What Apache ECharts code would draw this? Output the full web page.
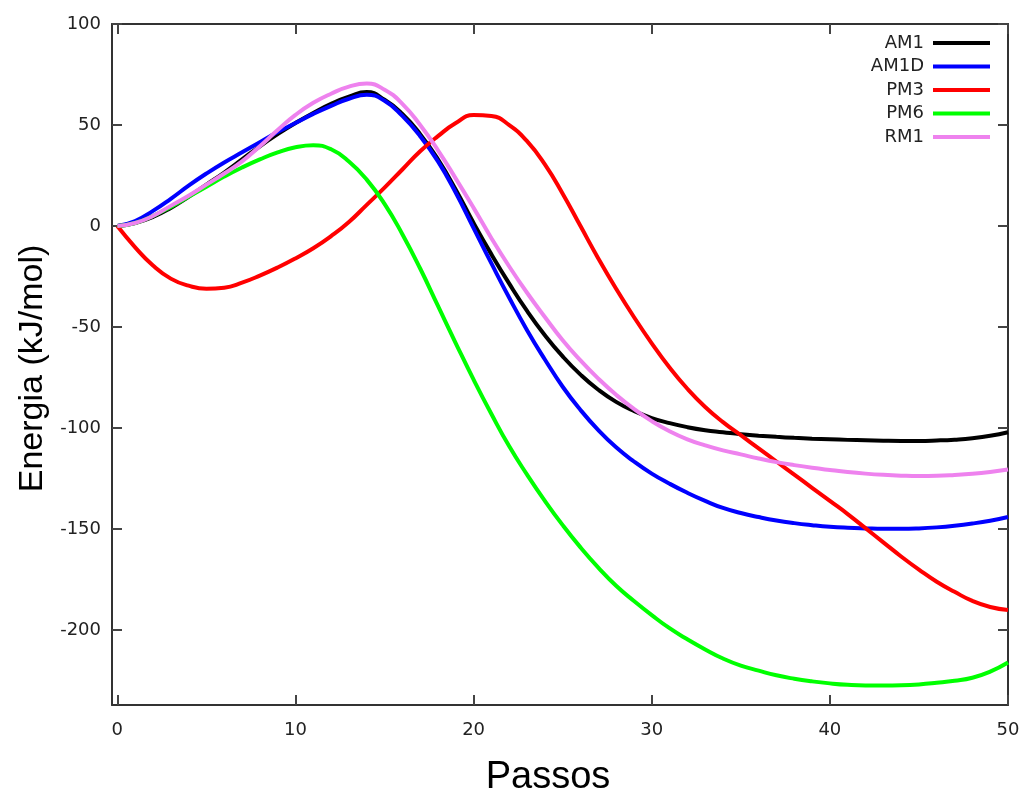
<!DOCTYPE html>
<html>
<head>
<meta charset="utf-8">
<script src="https://cdn.jsdelivr.net/npm/echarts@6/dist/echarts.min.js"></script>
<style>
  html, body { margin: 0; padding: 0; background: #fff; }
  #chart { width: 1023px; height: 790px; }
</style>
</head>
<body>
<div id="chart"></div>
<script>
// Passos (x), one value per step
const passos = [0, 1, 2, 3, 4, 5, 6, 7, 8, 9, 10, 11, 12, 13, 14, 15, 16, 17, 18, 19, 20, 21, 22, 23, 24, 25,
    26, 27, 28, 29, 30, 31, 32, 33, 34, 35, 36, 37, 38, 39, 40, 41, 42, 43, 44, 45, 46, 47, 48, 49, 50];

const am1 = [0, 1.5, 4.5, 9, 14.5, 20.5, 26.5, 33, 39.5, 45.5, 51, 56, 60.5, 64, 66.3, 62.5, 55.5, 45.5, 33, 18,
    1.5, -14, -28.5, -42, -54, -64.5, -73.5, -81, -87, -91.5, -95, -97.5, -99.5, -101, -102, -103, -103.7, -104.3, -104.8, -105.2,
    -105.5, -105.8, -106, -106.2, -106.3, -106.3, -106.1, -105.7, -105, -103.8, -102];
const am1d = [0, 2.5, 7.5, 13.5, 20, 26, 31.5, 36.5, 41.5, 46.5, 51, 55.5, 59.5, 63, 65, 62, 54.5, 44.5, 32, 16.5,
    -1, -18.5, -35.5, -51.5, -66, -79.5, -91, -101, -109.5, -116.5, -122.5, -127.5, -132, -136, -139.5, -142, -144, -145.7, -147, -148,
    -148.8, -149.3, -149.6, -149.8, -149.8, -149.6, -149.1, -148.3, -147.2, -145.8, -144];
const pm3 = [0, -10.5, -19.5, -26, -29.5, -31, -30.5, -28, -24.5, -20.5, -16, -11, -5, 2, 10.5, 19, 28, 37, 44.5, 51,
    55, 54.5, 50, 42, 30.5, 16, 0, -16, -31, -45, -58, -70, -80.5, -89.5, -97, -103.5, -110, -116.5, -123, -129.5,
    -136, -142.5, -149.5, -156.5, -163.5, -170, -176, -181, -185.5, -188.5, -190];
const pm6 = [0, 1.5, 5, 9.5, 14.5, 19.5, 24.5, 29, 33, 36.5, 39, 40, 38, 32, 23, 11, -4, -21, -39.5, -58,
    -76, -93, -109, -123, -136, -148, -159, -169, -178, -185.5, -192.5, -199, -204.5, -209.5, -214, -217.5, -220, -222.3, -224, -225.3,
    -226.3, -227, -227.3, -227.3, -227.2, -226.8, -226, -225, -223.5, -220.5, -216];
const rm1 = [0, 1.5, 5, 10, 15, 20.5, 26, 32, 39.5, 47.5, 55, 61, 65.5, 69, 70.5, 67.5, 60.5, 50, 37.5, 23.5,
    9, -6, -20, -33, -45, -56.5, -66.5, -75.5, -83.5, -90.5, -96.5, -101.5, -105.5, -108.5, -111, -113, -115, -116.8, -118.3, -119.6,
    -120.7, -121.7, -122.5, -123.1, -123.5, -123.7, -123.6, -123.2, -122.6, -121.7, -120.5];

const xTicks = [0, 10, 20, 30, 40, 50];
const yTicks = [-200, -150, -100, -50, 0, 50, 100];

const names = ["AM1", "AM1D", "PM3", "PM6", "RM1"];
const colors = ["#000000", "#0000ff", "#ff0000", "#00ff00", "#ee82ee"];
const values = [am1, am1d, pm3, pm6, rm1];

const frame = { show: true, lineStyle: { color: "#333", width: 2 } };
const tickFont = { fontFamily: "DejaVu Sans", fontSize: 18, color: "#222" };

function xAxis(pos, labels) {
    return {
        type: "value", position: pos, min: -0.3, max: 50,
        axisLine: { ...frame, onZero: false },
        axisTick: { show: true, inside: true, length: 10, customValues: xTicks, lineStyle: { color: "#444", width: 2 } },
        axisLabel: labels ? { show: true, customValues: xTicks, margin: 16, ...tickFont } : { show: false },
        splitLine: { show: false }
    };
}

function yAxis(pos, labels) {
    return {
        type: "value", position: pos, min: -237, max: 100,
        axisLine: { ...frame, onZero: false },
        axisTick: { show: true, inside: true, length: 10, customValues: yTicks, lineStyle: { color: "#444", width: 2 } },
        axisLabel: labels ? { show: true, customValues: yTicks, margin: 11, ...tickFont } : { show: false },
        splitLine: { show: false }
    };
}

const xMain = xAxis("bottom", true);
xMain.name = "Passos";
xMain.nameLocation = "middle";
xMain.nameGap = 54;
xMain.nameTextStyle = { fontFamily: "Liberation Sans", fontSize: 38, color: "#000", padding: [0, 24, 0, 0] };

const yMain = yAxis("left", true);
yMain.name = "Energia (kJ/mol)";
yMain.nameLocation = "middle";
yMain.nameGap = 62;
yMain.nameTextStyle = { fontFamily: "Liberation Sans", fontSize: 34, color: "#000", padding: [0, 8, 0, 0] };

const chart = echarts.init(document.getElementById("chart"), null, { renderer: "canvas" });

chart.setOption({
    animation: false,
    backgroundColor: "#fff",
    grid: { left: 112, right: 15, top: 24, bottom: 85, containLabel: false, outerBoundsMode: "none" },
    xAxis: [xMain, xAxis("top", false)],
    yAxis: [yMain, yAxis("right", false)],
    legend: {
        orient: "vertical",
        right: 33,
        top: 34,
        padding: 0,
        align: "right",
        icon: "rect",
        itemWidth: 57,
        itemHeight: 4,
        itemGap: 5.5,
        data: names,
        formatter: "{n|{name}}",
        textStyle: {
            ...tickFont,
            rich: { n: { ...tickFont, width: 70, align: "right", padding: [0, 4, 0, 0] } }
        }
    },
    series: names.map((name, i) => ({
        name: name,
        type: "line",
        xAxisIndex: 0,
        yAxisIndex: 0,
        smooth: 0.5,
        symbol: "none",
        color: colors[i],
        lineStyle: { color: colors[i], width: 4 },
        data: passos.map((p, k) => [p, values[i][k]])
    }))
});
</script>
</body>
</html>
